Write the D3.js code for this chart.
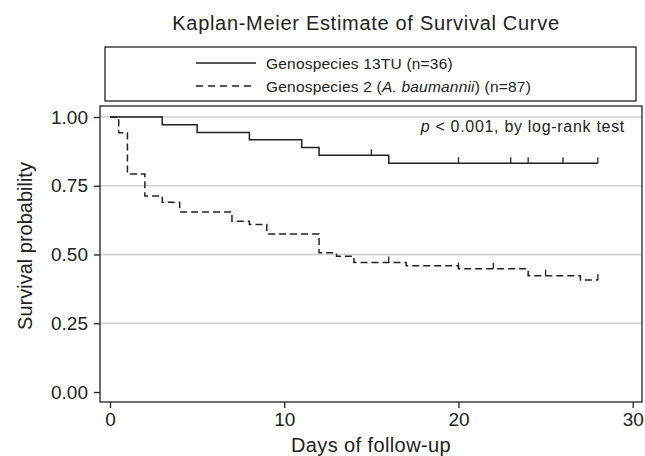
<!DOCTYPE html>
<html>
<head>
<meta charset="utf-8">
<script src="https://cdn.jsdelivr.net/npm/d3@7"></script>
<style>
  body { margin: 0; background: #fff; }
  svg { font-family: "Liberation Sans", Arial, sans-serif; }
</style>
</head>
<body>
<svg width="645" height="456"></svg>
<script>
// solid curve: Genospecies 13TU
const tuTimes = [0, 3, 5, 8, 11, 12, 16, 28];
const tuSurv = [1, 0.972, 0.944, 0.917, 0.889, 0.861, 0.832, 0.832];
const tuCensor = [15, 20, 23, 24, 26, 28];
// dashed curve: Genospecies 2
const abTimes = [0, 0.5, 1, 2, 3, 4, 7, 8, 9, 12, 13, 14, 17, 20, 24, 27, 28];
const abSurv = [1, 0.943, 0.793, 0.713, 0.69, 0.655, 0.621, 0.609, 0.575, 0.506, 0.494, 0.471, 0.459, 0.448, 0.423, 0.407, 0.407];
const abCensor = [16, 20, 22, 25, 28];
const xTicks = [0, 10, 20, 30];
const yTicks = [0, 0.25, 0.5, 0.75, 1];

const svg = d3.select('svg');
const frame = { left: 100, right: 642, top: 106, bottom: 402 };
const ink = '#222';

const x = d3.scaleLinear().domain([0, 30]).range([110, 632.7]);
const y = d3.scaleLinear().domain([0, 1]).range([392, 117]);

// grid
svg.selectAll('.grid')
  .data(yTicks.filter(d => d > 0))
  .enter()
  .append('line')
  .attr('x1', frame.left).attr('x2', frame.right)
  .attr('y1', d => y(d)).attr('y2', d => y(d))
  .attr('stroke', '#cfcfcf').attr('stroke-width', 1.5);

// frame
svg.append('rect')
  .attr('x', frame.left).attr('y', frame.top)
  .attr('width', frame.right - frame.left)
  .attr('height', frame.bottom - frame.top)
  .attr('fill', 'none').attr('stroke', ink).attr('stroke-width', 1.3);

// axes
const yAxis = svg.append('g')
  .attr('transform', `translate(${frame.left},0)`)
  .call(d3.axisLeft(y).tickValues(yTicks).tickFormat(d3.format('.2f')).tickSize(6).tickPadding(6));
const xAxis = svg.append('g')
  .attr('transform', `translate(0,${frame.bottom})`)
  .call(d3.axisBottom(x).tickValues(xTicks).tickSize(6).tickPadding(5));
[xAxis, yAxis].forEach(a => {
  a.select('.domain').remove();
  a.selectAll('line').attr('stroke', ink).attr('stroke-width', 1.3);
  a.selectAll('text').attr('fill', ink).attr('font-size', 19)
    .attr('font-family', '"Liberation Sans", Arial, sans-serif');
});

// step curves
const step = d3.line().x(d => x(d[0])).y(d => y(d[1])).curve(d3.curveStepAfter);
function survAt(times, surv, t) {
  let s = surv[0];
  times.forEach((tt, i) => { if (tt <= t) s = surv[i]; });
  return s;
}
const curves = [
  { times: tuTimes, surv: tuSurv, censor: tuCensor, dash: null },
  { times: abTimes, surv: abSurv, censor: abCensor, dash: '7,4' }
];
curves.forEach(c => {
  svg.append('path')
    .datum(c.times.map((t, i) => [t, c.surv[i]]))
    .attr('d', step)
    .attr('fill', 'none').attr('stroke', ink).attr('stroke-width', 1.5)
    .attr('stroke-dasharray', c.dash);
  svg.selectAll(null)
    .data(c.censor)
    .enter()
    .append('line')
    .attr('x1', d => x(d)).attr('x2', d => x(d))
    .attr('y1', d => y(survAt(c.times, c.surv, d)))
    .attr('y2', d => y(survAt(c.times, c.surv, d)) - 6)
    .attr('stroke', ink).attr('stroke-width', 1.3);
});

// p value
const pt = svg.append('text')
  .attr('x', 625).attr('y', 132).attr('text-anchor', 'end')
  .attr('font-size', 16).attr('letter-spacing', 0.7).attr('fill', ink);
pt.append('tspan').attr('font-style', 'italic').text('p');
pt.append('tspan').text(' < 0.001, by log-rank test');

// legend
svg.append('rect')
  .attr('x', 105).attr('y', 47).attr('width', 531).attr('height', 54)
  .attr('fill', 'none').attr('stroke', ink).attr('stroke-width', 1.3);
const legendRows = [
  { y: 63, dash: null, parts: [['Genospecies 13TU (n=36)', 'normal']] },
  { y: 86, dash: '7,5', parts: [['Genospecies 2 (', 'normal'], ['A. baumannii', 'italic'], [') (n=87)', 'normal']] }
];
legendRows.forEach(r => {
  svg.append('line')
    .attr('x1', 196).attr('x2', 256).attr('y1', r.y).attr('y2', r.y)
    .attr('stroke', ink).attr('stroke-width', 1.3).attr('stroke-dasharray', r.dash);
  const t = svg.append('text').attr('x', 266).attr('y', r.y + 5.5)
    .attr('font-size', 15.5).attr('letter-spacing', 0.2).attr('fill', ink);
  r.parts.forEach(p => t.append('tspan').attr('font-style', p[1]).text(p[0]));
});

// titles
svg.append('text')
  .attr('x', 366).attr('y', 30).attr('text-anchor', 'middle')
  .attr('font-size', 20).attr('letter-spacing', 0.7).attr('fill', ink)
  .text('Kaplan-Meier Estimate of Survival Curve');
svg.append('text')
  .attr('x', 371).attr('y', 452).attr('text-anchor', 'middle')
  .attr('font-size', 20).attr('letter-spacing', 0.4).attr('fill', ink)
  .text('Days of follow-up');
svg.append('text')
  .attr('transform', 'translate(32,246) rotate(-90)')
  .attr('text-anchor', 'middle')
  .attr('font-size', 20).attr('fill', ink)
  .text('Survival probability');
</script>
</body>
</html>
